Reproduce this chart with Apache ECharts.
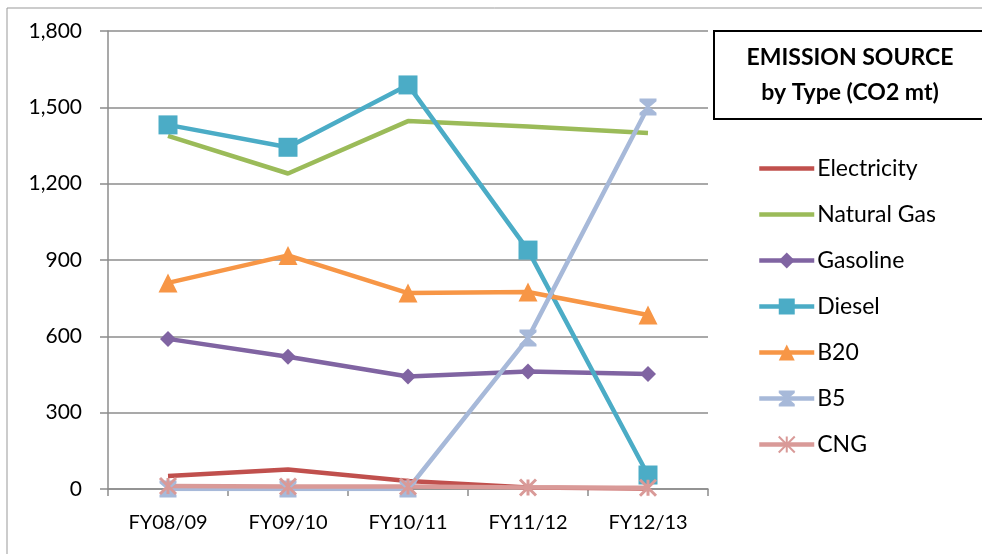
<!DOCTYPE html>
<html>
<head>
<meta charset="utf-8">
<script src="https://cdn.jsdelivr.net/npm/echarts@6/dist/echarts.min.js"></script>
<style>
  html, body { margin: 0; padding: 0; background: #fff; }
  #chart { width: 982px; height: 554px; }
</style>
</head>
<body>
<div id="chart"></div>
<script>
// Fiscal years on the category axis
const years = ['FY08/09', 'FY09/10', 'FY10/11', 'FY11/12', 'FY12/13'];

// Emissions by source, CO2 metric tons
const electricity = [51, 77, 31, 6, 2];
const naturalGas  = [1388, 1240, 1446, 1425, 1399];
const gasoline    = [590, 520, 442, 462, 452];
const diesel      = [1431, 1343, 1588, 939, 55];
const b20         = [810, 918, 770, 774, 684];
const b5          = [0, 0, 0, 593, 1501];
const cng         = [12, 10, 10, 6, 5];

// Value axis ticks
const yTicks = [0, 300, 600, 900, 1200, 1500, 1800];

const FONT = 'Lato, "Open Sans", sans-serif';
const GRAY = '#8c8c8c';
const LINE_W = 4.5;

// Marker shapes
const HOURGLASS = 'path://M0,0 L10,0 L10,1.6 L6,5 L10,8.4 L10,10 L0,10 L0,8.4 L4,5 L0,1.6 Z';
const ASTERISK = 'path://M0,0 L10,10 M10,0 L0,10 M5,0 L5,10';
// Plain bar used as the legend icon of the marker-less lines
const BAR = 'path://M0,0 L55,0 L55,4.5 L0,4.5 Z';

function series(name, data, color, symbol, size, extra) {
  return Object.assign({
    name: name,
    type: 'line',
    data: data,
    symbol: symbol,
    symbolSize: size,
    showSymbol: symbol !== 'none',
    lineStyle: { color: color, width: LINE_W },
    itemStyle: { color: color, borderColor: color, borderWidth: 0 },
    emphasis: { disabled: true },
    animation: false,
    z: 2
  }, extra || {});
}

const chart = echarts.init(document.getElementById('chart'), null, { renderer: 'canvas' });

chart.setOption({
  backgroundColor: '#fff',
  animation: false,
  grid: { left: 108, right: 274, top: 31, bottom: 65, containLabel: false },
  legend: {
    orient: 'vertical',
    left: 757,
    top: 157,
    padding: 0,
    itemWidth: 55,
    itemHeight: 20,
    itemGap: 23,
    lineStyle: { width: LINE_W },
    textStyle: { fontFamily: FONT, fontSize: 23, color: '#000', padding: [0, 0, 0, -2] },
    data: [
      { name: 'Electricity', icon: BAR },
      { name: 'Natural Gas', icon: BAR },
      'Gasoline', 'Diesel', 'B20', 'B5', 'CNG'
    ]
  },
  xAxis: {
    type: 'category',
    data: years,
    boundaryGap: true,
    axisLine: { lineStyle: { color: GRAY, width: 1.5 } },
    axisTick: { show: true, length: 7, inside: false, lineStyle: { color: GRAY, width: 1.5 } },
    axisLabel: { fontFamily: FONT, fontSize: 20, color: '#000', margin: 24 },
    splitLine: { show: false }
  },
  yAxis: {
    type: 'value',
    min: yTicks[0],
    max: yTicks[yTicks.length - 1],
    interval: 300,
    axisLine: { show: true, lineStyle: { color: GRAY, width: 1.5 } },
    axisTick: { show: true, length: 8, lineStyle: { color: GRAY, width: 1.5 } },
    axisLabel: {
      fontFamily: FONT, fontSize: 21, color: '#000', margin: 26,
      formatter: v => v.toLocaleString('en-US')
    },
    splitLine: { show: true, lineStyle: { color: GRAY, width: 1.5 } }
  },
  series: [
    series('Electricity', electricity, '#C0504D', 'none', 0),
    series('Natural Gas', naturalGas, '#9BBB59', 'none', 0),
    series('Gasoline', gasoline, '#8064A2', 'diamond', 16),
    series('Diesel', diesel, '#4BACC6', 'rect', 19),
    series('B20', b20, '#F79646', 'triangle', 19),
    series('B5', b5, '#A7B9D9', HOURGLASS, 17),
    series('CNG', cng, '#D99A98', ASTERISK, 16, {
      itemStyle: { color: '#D99A98', borderColor: '#D99A98', borderWidth: 3 }
    })
  ],
  graphic: [
    // outer frame (top and left edges)
    { type: 'line', shape: { x1: 7, y1: 8, x2: 982, y2: 8 }, style: { stroke: '#999', lineWidth: 1 }, silent: true },
    { type: 'line', shape: { x1: 7, y1: 8, x2: 7, y2: 554 }, style: { stroke: '#999', lineWidth: 1 }, silent: true },
    // legend title box
    { type: 'rect', shape: { x: 714, y: 31, width: 300, height: 88 }, style: { fill: '#fff', stroke: '#000', lineWidth: 2 }, silent: true },
    {
      type: 'text',
      style: {
        x: 850, y: 58,
        text: 'EMISSION SOURCE', fontFamily: FONT, fontSize: 23, fontWeight: 'bold', fill: '#000',
        align: 'center', verticalAlign: 'middle'
      },
      silent: true
    },
    {
      type: 'text',
      style: {
        x: 850, y: 93,
        text: 'by Type (CO2 mt)', fontFamily: FONT, fontSize: 23, fontWeight: 'bold', fill: '#000',
        align: 'center', verticalAlign: 'middle'
      },
      silent: true
    }
  ]
});
</script>
</body>
</html>
